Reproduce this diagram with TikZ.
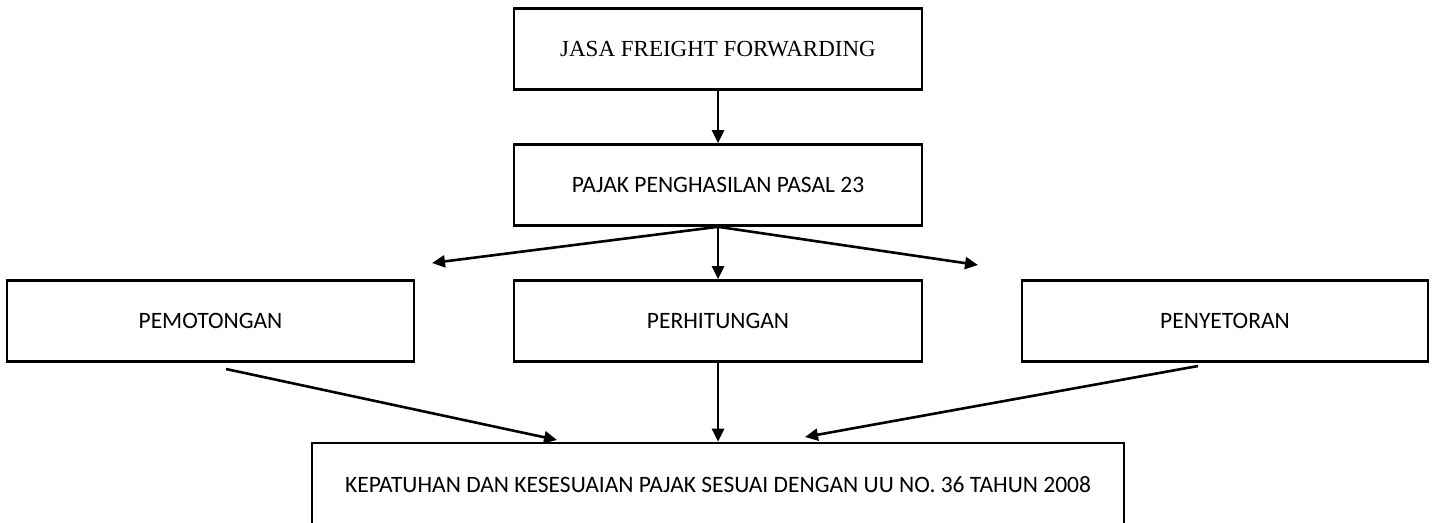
\documentclass[tikz,border=0pt]{standalone}
\usepackage{fontspec}
\setmainfont{Liberation Serif}
\newfontfamily\calibri{Carlito}
\usetikzlibrary{arrows.meta}

\begin{document}
\begin{tikzpicture}[x=1pt,y=-1pt,
    kotak/.style={draw,line width=2.6pt,inner sep=0pt,minimum height=81pt,font=\calibri\fontsize{23.5}{28}\selectfont},
    panah/.style={line width=2.6pt,-{Triangle[length=13pt,width=12pt]}}]
                \clip (0,0) rectangle (1434,522);

                \node[kotak,minimum width=408pt,font=\fontsize{23}{28}\selectfont] (jasa) at (718,49) {JASA FREIGHT FORWARDING};
                \node[kotak,minimum width=408pt] (pph) at (718,185) {PAJAK PENGHASILAN PASAL 23};

                \node[kotak,minimum width=407pt] (potong) at (210.5,321) {PEMOTONGAN};
                \node[kotak,minimum width=408pt] (hitung) at (718,321) {PERHITUNGAN};
                \node[kotak,minimum width=406pt] (setor) at (1225,321) {PENYETORAN};

                \node[kotak,minimum width=812pt,minimum height=84pt] (patuh) at (718,485) {KEPATUHAN DAN KESESUAIAN PAJAK SESUAI DENGAN UU NO. 36 TAHUN 2008};

                \coordinate (kiri) at (432,263);
                \coordinate (kanan) at (978,265);
                \coordinate (potongbawah) at (226,369);
                \coordinate (patuhkiri) at (557,440);
                \coordinate (setorbawah) at (1198,366);
                \coordinate (patuhkanan) at (805,437);

                \draw [panah](jasa.south) -- (pph.north);
                \draw [panah](pph.south) -- (kiri);
                \draw [panah](pph.south) -- (hitung.north);
                \draw [panah](pph.south) -- (kanan);

                \draw [panah](potongbawah) -- (patuhkiri);
                \draw [panah](hitung.south) -- (patuh.north);
                \draw [panah](setorbawah) -- (patuhkanan);
            \end{tikzpicture}
\end{document}
